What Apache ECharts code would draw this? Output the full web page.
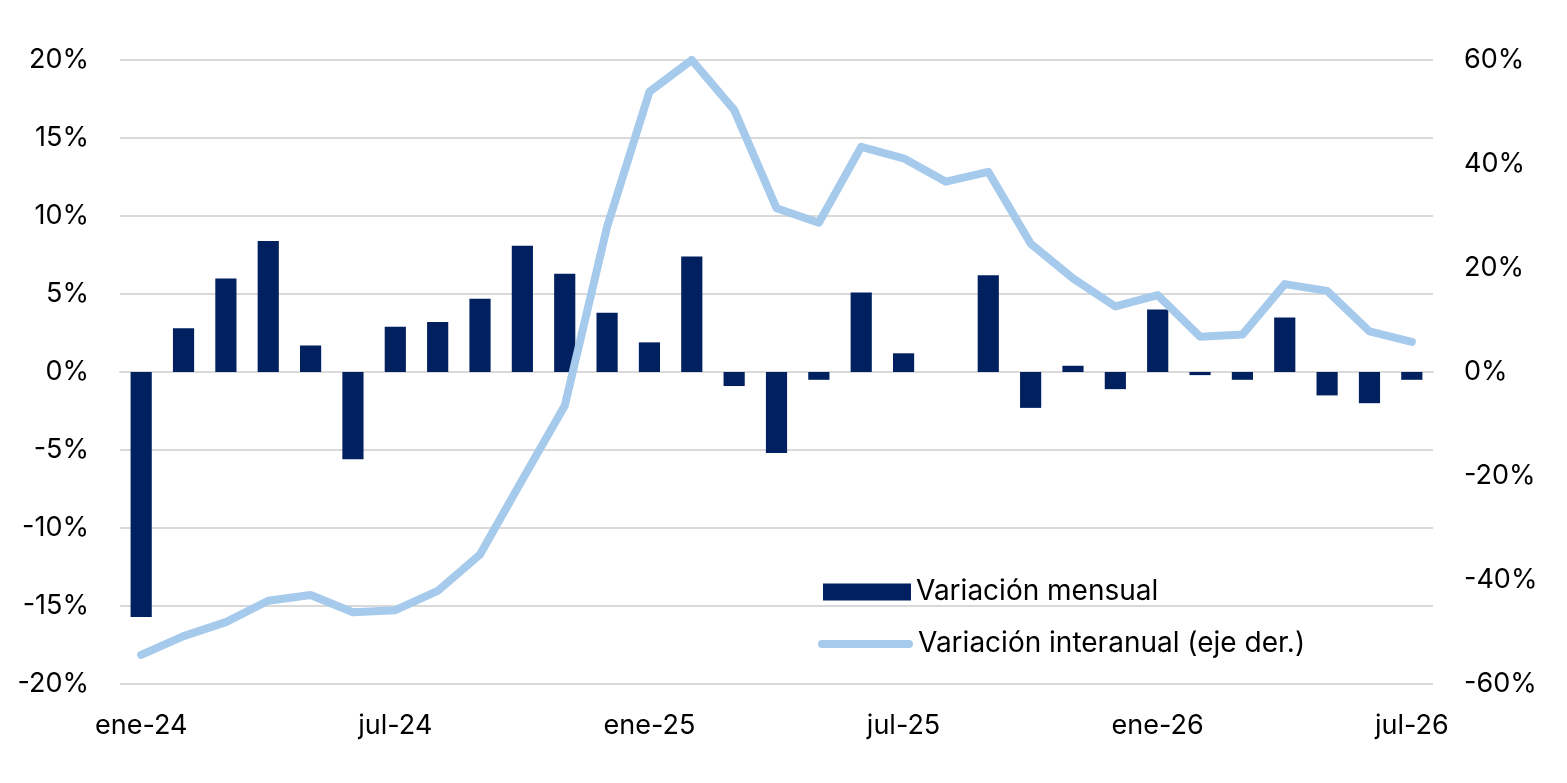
<!DOCTYPE html>
<html lang="es">
  <head>
    <meta charset="UTF-8" />
    <title>Variación mensual e interanual</title>
    <script src="https://cdn.jsdelivr.net/npm/echarts@6/dist/echarts.min.js"></script>
    <style>
      html,
      body {
        margin: 0;
        padding: 0;
        background: #fff;
      }
      #chart {
        width: 1567px;
        height: 783px;
      }
    </style>
  </head>
  <body>
    <div id="chart"></div>
    <script>
      var meses = [
        "ene-24", "feb-24", "mar-24", "abr-24", "may-24", "jun-24",
        "jul-24", "ago-24", "sep-24", "oct-24", "nov-24", "dic-24",
        "ene-25", "feb-25", "mar-25", "abr-25", "may-25", "jun-25",
        "jul-25", "ago-25", "sep-25", "oct-25", "nov-25", "dic-25",
        "ene-26", "feb-26", "mar-26", "abr-26", "may-26", "jun-26",
        "jul-26",
      ];
      // variación mensual (%), eje izquierdo
      var mensual = [
        -15.7, 2.8, 6.0, 8.4, 1.7, -5.6, 2.9, 3.2, 4.7, 8.1, 6.3, 3.8,
        1.9, 7.4, -0.9, -5.2, -0.5, 5.1, 1.2, 0, 6.2, -2.3, 0.4, -1.1,
        4.0, -0.2, -0.5, 3.5, -1.5, -2.0, -0.5,
      ];
      // variación interanual (%), eje derecho
      var interanual = [
        -54.4, -50.8, -48.1, -44.0, -42.9, -46.2, -45.8, -42.1, -35.1,
        -20.7, -6.5, 27.9, 53.9, 60.0, 50.4, 31.5, 28.7, 43.3, 41.1, 36.6,
        38.5, 24.7, 18.0, 12.6, 14.8, 6.8, 7.2, 16.9, 15.6, 7.8, 5.8,
      ];

      var font = "Inter, 'DejaVu Sans', sans-serif";
      var gris = "#D9D9D9";

      var chart = echarts.init(document.getElementById("chart"));
      chart.setOption({
        animation: false,
        grid: { left: 120, right: 134, top: 60, bottom: 99 },
        legend: [
          {
            data: ["Variación mensual"],
            left: 818,
            top: 573,
            icon: "rect",
            itemWidth: 88,
            itemHeight: 17,
            textStyle: { fontFamily: font, fontSize: 28, color: "#000" },
          },
          {
            data: ["Variación interanual (eje der.)"],
            left: 813,
            top: 625,
            icon: "path://M4,0 L91,0 A4,4 0 0 1 91,8 L4,8 A4,4 0 0 1 4,0 Z",
            itemWidth: 95,
            itemHeight: 8,
            textStyle: { fontFamily: font, fontSize: 28, color: "#000" },
          },
        ],
        xAxis: [
          {
            type: "category",
            data: meses,
            position: "bottom",
            axisLine: { show: false, onZero: false },
            axisTick: { show: false },
            axisLabel: {
              interval: 5,
              margin: 28,
              fontFamily: font,
              fontSize: 27,
              color: "#000",
            },
          },
          {
            type: "category",
            data: meses,
            position: "top",
            axisLine: { onZero: true, lineStyle: { color: gris, width: 2 } },
            axisTick: {
              interval: 5,
              inside: true,
              length: 10,
              lineStyle: { color: gris, width: 2 },
            },
            axisLabel: { show: false },
          },
        ],
        yAxis: [
          {
            type: "value",
            min: -20,
            max: 20,
            interval: 5,
            axisLabel: {
              formatter: "{value}%",
              margin: 31,
              fontFamily: font,
              fontSize: 27,
              color: "#000",
            },
            splitLine: { lineStyle: { color: gris, width: 2 } },
          },
          {
            type: "value",
            min: -60,
            max: 60,
            interval: 20,
            axisLabel: {
              formatter: "{value}%",
              margin: 31,
              fontFamily: font,
              fontSize: 27,
              color: "#000",
            },
            splitLine: { show: false },
          },
        ],
        series: [
          {
            name: "Variación mensual",
            type: "bar",
            data: mensual,
            barWidth: "50%",
            itemStyle: { color: "#002060" },
          },
          {
            name: "Variación interanual (eje der.)",
            type: "line",
            yAxisIndex: 1,
            data: interanual,
            showSymbol: false,
            symbol: "none",
            itemStyle: { color: "#A6CAEC" },
            lineStyle: { color: "#A6CAEC", width: 8, cap: "round", join: "round" },
          },
        ],
      });
    </script>
  </body>
</html>
